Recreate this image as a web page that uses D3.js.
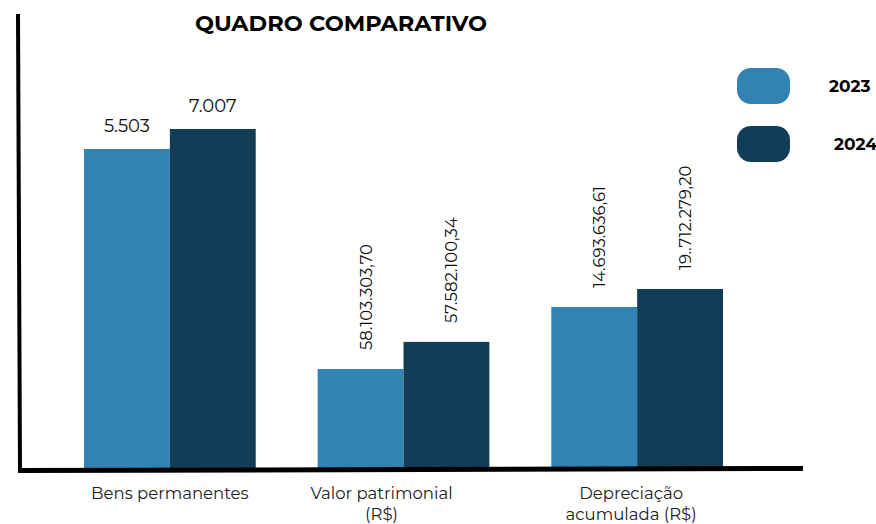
<!DOCTYPE html>
<html>
<head>
<meta charset="utf-8">
<script src="https://cdn.jsdelivr.net/npm/d3@7"></script>
<style>
  body { margin: 0; background: #fff; }
  text { font-family: Montserrat, "Open Sans", sans-serif; }
</style>
</head>
<body>
<div id="canvas"></div>
<script>
// categorias e series
var categorias = [['Bens permanentes'], ['Valor patrimonial', '(R$)'], ['Depreciação', 'acumulada (R$)']];
var anos = ['2023', '2024'];
// altura visual das barras (indice, maior = 100)
var altura2023 = [94.1, 29.2, 47.5];
var altura2024 = [100, 37.2, 52.8];
var rotulos2023 = ['5.503', '58.103.303,70', '14.693.636,61'];
var rotulos2024 = ['7.007', '57.582.100,34', '19..712.279,20'];
var cores = ['#3282b2', '#133c56'];

svg = d3.select('#canvas').append('svg')
  .attr('width', 876)
  .attr('height', 524);

var x0 = d3.scaleBand()
  .domain(d3.range(categorias.length))
  .range([84, 723])
  .paddingInner(0.265)
  .paddingOuter(0);

var x1 = d3.scaleBand()
  .domain(anos)
  .range([0, x0.bandwidth()]);

var y = d3.scaleLinear()
  .domain([0, 100])
  .range([468, 129]);

var dados = [];
categorias.forEach(function(c, i) {
  dados.push({cat: i, ano: '2023', v: altura2023[i], rot: rotulos2023[i]});
  dados.push({cat: i, ano: '2024', v: altura2024[i], rot: rotulos2024[i]});
});

// titulo
svg.append('text')
  .attr('x', 341)
  .attr('y', 31)
  .attr('text-anchor', 'middle')
  .style('font-size', '22.5px')
  .style('font-weight', 'bold')
  .style('fill', '#000')
  .text('QUADRO COMPARATIVO');

// barras
svg.selectAll('rect.barra')
  .data(dados)
  .enter().append('rect')
  .attr('class', 'barra')
  .attr('x', function(d) { return x0(d.cat) + x1(d.ano); })
  .attr('y', function(d) { return y(d.v); })
  .attr('width', x1.bandwidth())
  .attr('height', function(d) { return y(0) - y(d.v); })
  .attr('fill', function(d) { return d.ano == '2023' ? cores[0] : cores[1]; });

// rotulos de valor: o primeiro grupo na horizontal, os demais girados
svg.selectAll('text.valor')
  .data(dados)
  .enter().append('text')
  .attr('class', 'valor')
  .attr('transform', function(d) {
    var cx = x0(d.cat) + x1(d.ano) + x1.bandwidth() / 2;
    if (d.cat == 0) return 'translate(' + cx + ',' + (y(d.v) - 17) + ')';
    return 'translate(' + (cx + 11) + ',' + (y(d.v) - 19) + ') rotate(-90)';
  })
  .attr('text-anchor', function(d) { return d.cat == 0 ? 'middle' : 'start'; })
  .style('font-size', function(d) { return d.cat == 0 ? '18px' : '16.5px'; })
  .style('fill', '#111')
  .text(function(d) { return d.rot; });

// rotulos das categorias
var deslocamento = [0, -22, -6];
categorias.forEach(function(linhas, i) {
  var t = svg.append('text')
    .attr('text-anchor', 'middle')
    .style('font-size', '16.5px')
    .style('fill', '#222');
  linhas.forEach(function(l, k) {
    t.append('tspan')
      .attr('x', x0(i) + x0.bandwidth() / 2 + deslocamento[i])
      .attr('y', 499 + k * 21)
      .text(l);
  });
});

// eixos desenhados a mao
svg.append('path')
  .attr('d', 'M18 14 L20 471')
  .attr('stroke', '#000')
  .attr('stroke-width', 4);

svg.append('path')
  .attr('d', 'M18 470.5 L803 468.5')
  .attr('stroke', '#000')
  .attr('stroke-width', 5);

// legenda
var legenda = svg.selectAll('g.legenda')
  .data(anos)
  .enter().append('g')
  .attr('class', 'legenda')
  .attr('transform', function(d, i) { return 'translate(737,' + (68 + i * 58) + ')'; });

legenda.append('rect')
  .attr('width', 53)
  .attr('height', 36)
  .attr('rx', 14)
  .attr('fill', function(d, i) { return cores[i]; });

legenda.append('text')
  .attr('x', function(d, i) { return 92 + i * 5; })
  .attr('y', 24)
  .style('font-size', '17px')
  .style('font-weight', 'bold')
  .style('fill', '#000')
  .text(function(d) { return d; });
</script>
</body>
</html>
